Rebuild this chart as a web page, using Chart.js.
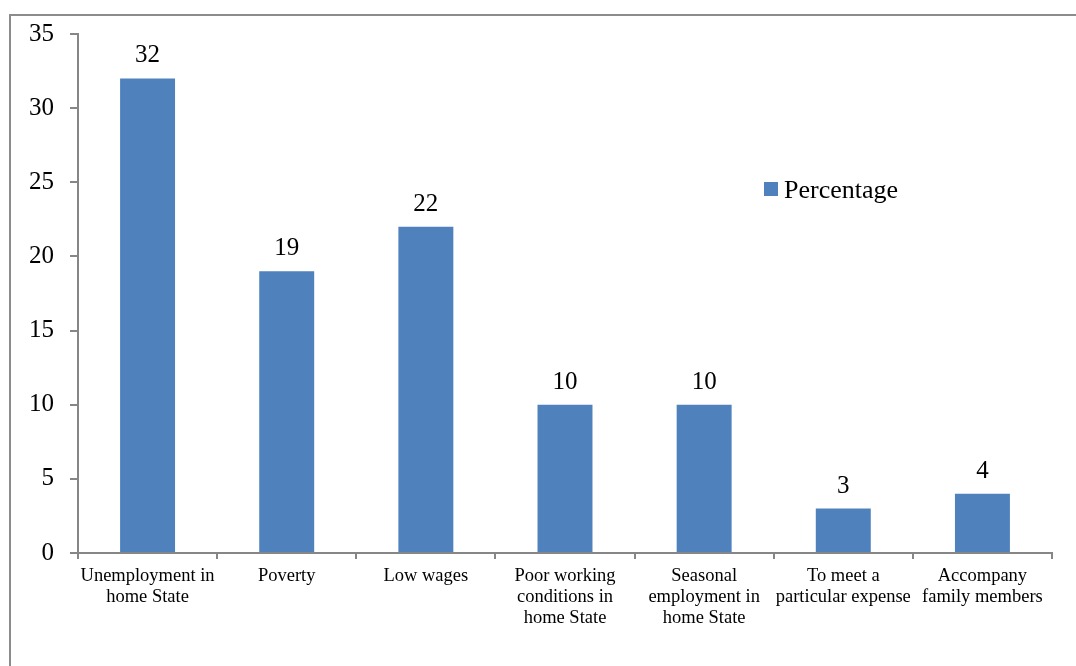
<!DOCTYPE html>
<html>
<head>
<meta charset="utf-8">
<script src="https://cdn.jsdelivr.net/npm/chart.js@4"></script>
<style>
  body { margin: 0; background: #fff; overflow: hidden; }
  #wrap { position: relative; width: 1076px; height: 666px; }
  #frame { position: absolute; left: 9px; top: 14px; width: 1200px; height: 800px; border: 2px solid #8c8c8c; box-sizing: border-box; }
  canvas { position: absolute; left: 0; top: 0; }
</style>
</head>
<body>
<div id="wrap">
  <div id="frame"></div>
  <canvas id="bar-chart" width="1076" height="666"></canvas>
</div>
<script>
var categories = [
  ["Unemployment in", "home State"],
  "Poverty",
  "Low wages",
  ["Poor working", "conditions in", "home State"],
  ["Seasonal", "employment in", "home State"],
  ["To meet a", "particular expense"],
  ["Accompany", "family members"]
];
var percentage = [32, 19, 22, 10, 10, 3, 4];
var yTicks = [0, 5, 10, 15, 20, 25, 30, 35];

var serif = "'Liberation Serif', 'Times New Roman', serif";

// numbers above each bar + legend placed inside the plot
var labelsPlugin = {
  id: 'valueLabels',
  afterDatasetsDraw: function(chart) {
    var ctx = chart.ctx;
    ctx.save();
    ctx.fillStyle = '#000';
    ctx.font = '25px ' + serif;
    ctx.textAlign = 'center';
    ctx.textBaseline = 'alphabetic';
    chart.getDatasetMeta(0).data.forEach(function(bar, i) {
      ctx.fillText(chart.data.datasets[0].data[i], bar.x, bar.y - 16);
    });
    // legend
    var ds = chart.data.datasets[0];
    ctx.fillStyle = ds.backgroundColor;
    ctx.fillRect(764, 182, 14, 14);
    ctx.fillStyle = '#000';
    ctx.textAlign = 'left';
    ctx.font = '26px ' + serif;
    ctx.fillText(ds.label, 784, 198);
    ctx.restore();
  }
};

new Chart(document.getElementById("bar-chart"), {
  type: 'bar',
  data: {
    labels: categories,
    datasets: [{
      label: "Percentage",
      data: percentage,
      backgroundColor: "#4F81BD",
      categoryPercentage: 1,
      barPercentage: 0.395
    }]
  },
  options: {
    responsive: false,
    animation: false,
    layout: { padding: { top: 34, right: 24, left: 0, bottom: 0 } },
    plugins: {
      legend: { display: false },
      tooltip: { enabled: false }
    },
    scales: {
      x: {
        grid: { display: true, drawOnChartArea: false, offset: true, tickLength: 6, color: '#868686', lineWidth: 2 },
        border: { color: '#868686', width: 2 },
        ticks: { color: '#000', font: { family: serif, size: 18.5, lineHeight: 1.12 }, padding: 7, maxRotation: 0, autoSkip: false },
        afterFit: function(scale) { scale.height = 113; }
      },
      y: {
        min: 0,
        max: 35,
        afterBuildTicks: function(scale) {
          scale.ticks = yTicks.map(function(v) { return { value: v }; });
        },
        grid: { display: true, drawOnChartArea: false, tickLength: 8, color: '#868686', lineWidth: 2 },
        border: { color: '#868686', width: 2 },
        ticks: { color: '#000', font: { family: serif, size: 25 }, padding: 16 },
        afterFit: function(scale) { scale.width = 78; }
      }
    }
  },
  plugins: [labelsPlugin]
});
</script>
</body>
</html>
